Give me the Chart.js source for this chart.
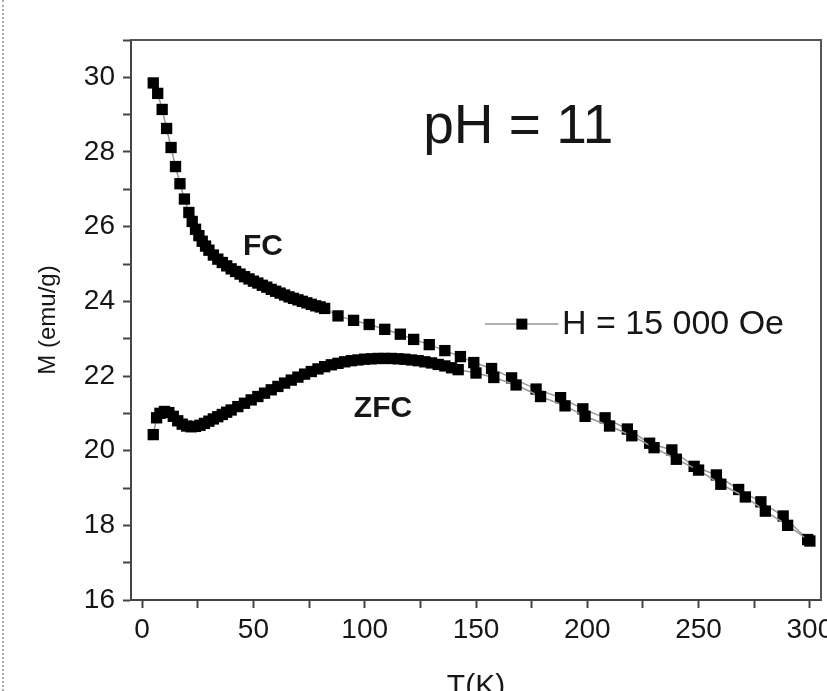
<!DOCTYPE html>
<html>
<head>
<meta charset="utf-8">
<script src="https://cdn.jsdelivr.net/npm/chart.js@4.4.1/dist/chart.umd.min.js"></script>
<style>
  html, body { margin: 0; padding: 0; background: #fff; overflow: hidden; width: 827px; height: 691px; }
  #wrap { position: relative; width: 827px; height: 691px; overflow: hidden; }
  #grafico { position: absolute; left: 0; top: 0; }
  #borda { position: absolute; left: 2px; top: 0; width: 0; height: 691px; border-left: 2px dotted #aaa; }
</style>
</head>
<body>
<div id="wrap">
  <canvas id="grafico" width="860" height="720"></canvas>
  <div id="borda"></div>
</div>
<script>
// FC (field cooled)
const fcT = [5, 7, 9, 11, 13, 15, 17, 19, 21, 22.5, 24, 25.5, 27, 28.5, 30, 32, 34, 36, 38, 40,
  42, 44, 46, 48, 50, 52, 54, 56, 58, 60, 62, 64, 66, 68, 70, 72, 74, 76, 78, 80, 82,
  88, 95, 102, 109, 116, 122, 129, 136, 143, 149,
  157, 166, 177, 188, 198, 208, 218, 228, 238, 248, 258, 268, 278, 288, 299];
const fcM = [29.85, 29.57, 29.14, 28.63, 28.12, 27.61, 27.15, 26.74, 26.38, 26.14, 25.93, 25.76, 25.61, 25.48, 25.37, 25.24, 25.13, 25.04, 24.95, 24.87,
  24.80, 24.73, 24.66, 24.60, 24.54, 24.49, 24.43, 24.38, 24.32, 24.27, 24.22, 24.17, 24.12, 24.08, 24.04, 24.00, 23.96, 23.92, 23.88, 23.85, 23.81,
  23.61, 23.49, 23.38, 23.25, 23.12, 22.98, 22.84, 22.68, 22.52, 22.36,
  22.20, 21.95, 21.65, 21.42, 21.12, 20.88, 20.58, 20.20, 20.02, 19.58, 19.35, 18.96, 18.63, 18.25, 17.62];

// ZFC (zero field cooled)
const zfcT = [5, 6.5, 8, 10, 12, 14, 16, 18, 20, 22, 24, 26, 28, 30, 32, 34, 36, 38, 40,
  43, 46, 49, 52, 55, 58, 61, 64, 67, 70, 73, 76, 79, 82, 85, 88, 91, 94, 97, 100,
  103, 106, 109, 112, 115, 118, 121, 124, 127, 130, 133, 136, 139, 142,
  150, 158, 168, 179, 190, 199, 210, 220, 230, 240, 250, 260, 271, 280, 290, 300];
const zfcM = [20.43, 20.88, 21.00, 21.05, 21.02, 20.92, 20.80, 20.71, 20.66, 20.64, 20.65, 20.68, 20.73, 20.79, 20.85, 20.91, 20.97, 21.03, 21.09,
  21.18, 21.27, 21.36, 21.45, 21.54, 21.63, 21.72, 21.81, 21.89, 21.97, 22.05, 22.12, 22.19, 22.25, 22.30, 22.34, 22.38, 22.41, 22.43, 22.45,
  22.46, 22.47, 22.47, 22.47, 22.46, 22.45, 22.43, 22.41, 22.38, 22.35, 22.31, 22.27, 22.22, 22.17,
  22.08, 21.96, 21.76, 21.45, 21.20, 20.92, 20.66, 20.40, 20.08, 19.77, 19.48, 19.10, 18.76, 18.38, 18.00, 17.58];

const xMin = -5, xMax = 305;
const yMin = 16, yMax = 31;
const tituloX = 'T(K)';
const tituloY = 'M (emu/g)';
const legendaTexto = 'H = 15 000 Oe';

const FONTE = "'Liberation Sans', Arial, sans-serif";
const COR_LINHA = '#9d9494';
const COR_TEXTO = '#161616';

// textos soltos dentro do grafico, posicionados em coordenadas de dados
const notas = [
  { texto: 'pH = 11', t: 169, m: 28.23, fonte: '55px ' + FONTE },
  { texto: 'FC', t: 54.3, m: 25.23, fonte: 'bold 30px ' + FONTE },
  { texto: 'ZFC', t: 108.2, m: 20.9, fonte: 'bold 30px ' + FONTE },
];
const legendaPos = { t0: 154, t1: 187, tq: 170.6, tt: 188.6, m: 23.39 };

const pontos = (ts, ms) => ts.map((t, i) => ({ x: t, y: ms[i] }));

const serie = (label, data) => ({
  label,
  data,
  showLine: true,
  borderColor: COR_LINHA,
  borderWidth: 1.5,
  backgroundColor: '#000',
  pointStyle: 'rect',
  pointRadius: 8,
  pointBackgroundColor: '#000',
  pointBorderColor: '#000',
  pointBorderWidth: 0,
  pointHoverRadius: 8,
});

const molduraPlugin = {
  id: 'moldura',
  beforeDatasetsDraw(chart) {
    const { ctx, chartArea: a } = chart;
    ctx.save();
    ctx.strokeStyle = '#555';
    ctx.lineWidth = 2;
    ctx.beginPath();
    ctx.moveTo(a.left, a.top);
    ctx.lineTo(a.right, a.top);
    ctx.lineTo(a.right, a.bottom);
    ctx.stroke();
    ctx.restore();
  },
};

const notasPlugin = {
  id: 'notas',
  afterDatasetsDraw(chart) {
    const { ctx, scales: { x, y } } = chart;
    ctx.save();
    ctx.fillStyle = COR_TEXTO;
    ctx.textAlign = 'center';
    ctx.textBaseline = 'alphabetic';
    notas.forEach(n => {
      ctx.font = n.fonte;
      ctx.fillText(n.texto, x.getPixelForValue(n.t), y.getPixelForValue(n.m));
    });

    // legenda
    const ly = y.getPixelForValue(legendaPos.m);
    ctx.strokeStyle = COR_LINHA;
    ctx.lineWidth = 1.5;
    ctx.beginPath();
    ctx.moveTo(x.getPixelForValue(legendaPos.t0), ly);
    ctx.lineTo(x.getPixelForValue(legendaPos.t1), ly);
    ctx.stroke();
    const lq = x.getPixelForValue(legendaPos.tq);
    ctx.fillStyle = '#000';
    ctx.fillRect(lq - 5.5, ly - 5.5, 11, 11);
    ctx.fillStyle = COR_TEXTO;
    ctx.font = '34px ' + FONTE;
    ctx.textAlign = 'left';
    ctx.textBaseline = 'middle';
    ctx.fillText(legendaTexto, x.getPixelForValue(legendaPos.tt), ly + 1);
    ctx.restore();
  },
};

new Chart(document.getElementById('grafico'), {
  type: 'scatter',
  data: {
    datasets: [serie('ZFC', pontos(zfcT, zfcM)), serie('FC', pontos(fcT, fcM))],
  },
  options: {
    responsive: false,
    animation: false,
    layout: { padding: { top: 40, right: 39, left: 0, bottom: 0 } },
    plugins: {
      legend: { display: false },
      tooltip: { enabled: false },
    },
    scales: {
      x: {
        type: 'linear',
        min: xMin,
        max: xMax,
        afterFit: s => { s.height = 120; },
        border: { color: '#444', width: 2 },
        grid: { drawOnChartArea: false, tickLength: 8, tickColor: '#444', tickWidth: 2 },
        ticks: {
          stepSize: 25,
          includeBounds: false,
          autoSkip: false,
          maxRotation: 0,
          padding: 5,
          color: COR_TEXTO,
          font: { family: FONTE, size: 28 },
          callback: v => (v % 50 === 0 ? v : ''),
        },
        title: {
          display: true,
          text: tituloX,
          color: COR_TEXTO,
          font: { family: FONTE, size: 30 },
          padding: { top: 0, bottom: 15 },
        },
      },
      y: {
        type: 'linear',
        min: yMin,
        max: yMax,
        afterFit: s => { s.width = 131; },
        border: { color: '#444', width: 2 },
        grid: { drawOnChartArea: false, tickLength: 8, tickColor: '#444', tickWidth: 2 },
        ticks: {
          stepSize: 1,
          includeBounds: false,
          autoSkip: false,
          padding: 8,
          color: COR_TEXTO,
          font: { family: FONTE, size: 28 },
          callback: v => (v % 2 === 0 ? v : ''),
        },
        title: {
          display: true,
          text: tituloY,
          color: COR_TEXTO,
          font: { family: FONTE, size: 24 },
          padding: { top: 34, bottom: 0 },
        },
      },
    },
  },
  plugins: [molduraPlugin, notasPlugin],
});
</script>
</body>
</html>
